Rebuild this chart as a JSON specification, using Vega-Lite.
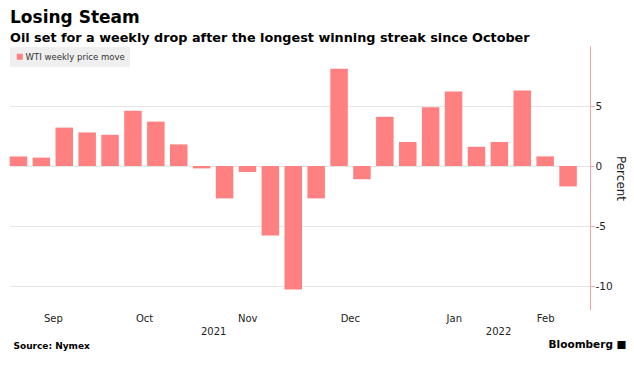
{
  "$schema": "https://vega.github.io/schema/vega-lite/v6.json",
  "width": 580,
  "height": 264,
  "autosize": {"type": "pad"},
  "padding": {"left": 9, "top": 9, "right": 0, "bottom": 20},
  "background": "white",
  "title": {
    "text": "Losing Steam",
    "subtitle": "Oil set for a weekly drop after the longest winning streak since October",
    "anchor": "start",
    "frame": "group",
    "font": "DejaVu Sans",
    "fontSize": 17,
    "fontWeight": "bold",
    "color": "#000000",
    "subtitleFont": "DejaVu Sans",
    "subtitleFontSize": 12.8,
    "subtitleFontWeight": "bold",
    "subtitleColor": "#000000",
    "subtitlePadding": 5,
    "offset": 0
  },
  "config": {"view": {"stroke": null}},
  "data": {
    "values": [
      {"date": "2021-09-03", "value": 0.8},
      {"date": "2021-09-10", "value": 0.7},
      {"date": "2021-09-17", "value": 3.2},
      {"date": "2021-09-24", "value": 2.8},
      {"date": "2021-10-01", "value": 2.6},
      {"date": "2021-10-08", "value": 4.6},
      {"date": "2021-10-15", "value": 3.7},
      {"date": "2021-10-22", "value": 1.8},
      {"date": "2021-10-29", "value": -0.2},
      {"date": "2021-11-05", "value": -2.7},
      {"date": "2021-11-12", "value": -0.5},
      {"date": "2021-11-19", "value": -5.8},
      {"date": "2021-11-26", "value": -10.3},
      {"date": "2021-12-03", "value": -2.7},
      {"date": "2021-12-10", "value": 8.1},
      {"date": "2021-12-17", "value": -1.1},
      {"date": "2021-12-24", "value": 4.1},
      {"date": "2021-12-31", "value": 2.0},
      {"date": "2022-01-07", "value": 4.9},
      {"date": "2022-01-14", "value": 6.2},
      {"date": "2022-01-21", "value": 1.6},
      {"date": "2022-01-28", "value": 2.0},
      {"date": "2022-02-04", "value": 6.3},
      {"date": "2022-02-11", "value": 0.8},
      {"date": "2022-02-18", "value": -1.7}
    ]
  },
  "layer": [
    {
      "mark": {"type": "bar", "width": 17.5},
      "encoding": {
        "x": {
          "field": "date",
          "type": "temporal",
          "scale": {
            "type": "utc",
            "padding": 0,
            "nice": false,
            "domain": [
              {"year": 2021, "month": 8, "date": 31, "hours": 10, "utc": true},
              {"year": 2022, "month": 2, "date": 24, "hours": 17, "utc": true}
            ]
          },
          "axis": {
            "orient": "bottom",
            "values": [
              {"year": 2021, "month": 9, "date": 13, "hours": 12, "utc": true},
              {"year": 2021, "month": 10, "date": 11, "hours": 10, "utc": true},
              {"year": 2021, "month": 11, "date": 11, "hours": 22, "utc": true},
              {"year": 2021, "month": 12, "date": 13, "hours": 7, "utc": true},
              {"year": 2022, "month": 1, "date": 14, "hours": 2, "utc": true},
              {"year": 2022, "month": 2, "date": 11, "hours": 0, "utc": true},
              {"year": 2021, "month": 11, "date": 1, "hours": 12, "minutes": 30, "utc": true},
              {"year": 2022, "month": 1, "date": 27, "hours": 14, "minutes": 30, "utc": true}
            ],
            "labelExpr": "utcminutes(datum.value) == 30 ? ['', utcFormat(datum.value, '%Y')] : utcFormat(datum.value, '%b')",
            "grid": false,
            "domain": false,
            "ticks": false,
            "labelPadding": 3,
            "labelFont": "DejaVu Sans",
            "labelFontSize": 10,
            "labelColor": "#222222",
            "labelOverlap": false,
            "labelFlush": false,
            "labelBound": false,
            "labelLineHeight": 13,
            "title": "Source: Nymex",
            "titleFont": "DejaVu Sans",
            "titleFontSize": 9,
            "titleFontWeight": "bold",
            "titleColor": "#000000",
            "titleAnchor": "start",
            "titleAlign": "left",
            "titleBaseline": "middle",
            "titleX": 3,
            "titleY": 35
          }
        },
        "y": {
          "field": "value",
          "type": "quantitative",
          "scale": {"domain": [-12, 10], "nice": false, "zero": false},
          "axis": {
            "orient": "right",
            "values": [-10, -5, 0, 5],
            "labelExpr": "toString(datum.value)",
            "title": "Percent",
            "grid": true,
            "gridColor": "#e6e6e6",
            "domainColor": "#f5a3ab",
            "tickColor": "#f5a3ab",
            "tickSize": 4,
            "labelFont": "DejaVu Sans",
            "labelFontSize": 10.5,
            "labelColor": "#222222",
            "labelPadding": 1,
            "titleFont": "DejaVu Sans",
            "titleFontSize": 12,
            "titleFontWeight": "normal",
            "titleColor": "#222222",
            "titlePadding": 1
          }
        },
        "color": {
          "datum": "WTI weekly price move",
          "type": "nominal",
          "scale": {"range": ["#ff8080"]},
          "legend": {
            "orient": "none",
            "legendX": 0,
            "legendY": 1,
            "title": null,
            "fillColor": "#efefef",
            "padding": 5,
            "symbolType": "square",
            "symbolSize": 36,
            "symbolStrokeWidth": 0,
            "labelFont": "DejaVu Sans Condensed, DejaVu Sans",
            "labelFontSize": 9.5,
            "labelColor": "#333333",
            "labelOffset": 1
          }
        }
      }
    },
    {
      "mark": {"type": "rule", "opacity": 0},
      "encoding": {
        "x": {
          "field": "date",
          "type": "temporal",
          "axis": {
            "orient": "bottom",
            "labels": false,
            "ticks": false,
            "domain": false,
            "grid": false,
            "title": "Bloomberg \u25A0",
            "titleFont": "DejaVu Sans",
            "titleFontSize": 10.5,
            "titleFontWeight": "bold",
            "titleColor": "#000000",
            "titleAnchor": "end",
            "titleAlign": "right",
            "titleBaseline": "middle",
            "titleX": 616,
            "titleY": 34
          }
        }
      }
    }
  ],
  "resolve": {"axis": {"x": "independent"}}
}
